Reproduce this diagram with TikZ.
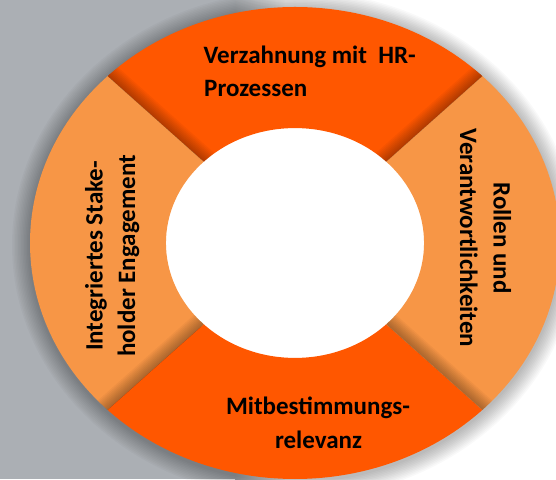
\documentclass[tikz,border=0pt]{standalone}
\usepackage{fontspec}
\setmainfont{Carlito}
\definecolor{darkor}{HTML}{FF5700}
\definecolor{lightor}{HTML}{F79646}
\definecolor{bggray}{HTML}{ABAFB4}
\newcommand{\segpath}[2]{(#1:1) arc[start angle=#1,end angle=#2,radius=1] -- (#2:0.487) arc[start angle=#2,end angle=#1,radius=0.487] -- cycle}
\begin{document}
\begin{tikzpicture}[x=1pt,y=1pt,
  lbl/.style={font=\bfseries\fontsize{25}{34}\selectfont, text=black, inner sep=0pt, anchor=base},
  edgeshade/.style={black, opacity=0.035}]
\useasboundingbox (0,0) rectangle (556,479);
\fill[white] (0,0) rectangle (556,479);
\fill[bggray] (0,0) rectangle (235,479);
\shade[left color=bggray, right color=white] (235,0) rectangle (285,479);
% soft shadow of the ring
\foreach \i in {1,...,12}
  \fill[black,opacity=0.025] (295,234) ellipse ({265+1.5*\i} and {236+1.5*\i});
\begin{scope}[shift={(295,236)}, xscale=265, yscale=236]
  \fill[white] (0,0) circle[radius=0.5];
  \fill[darkor] \segpath{45}{135};
  \fill[lightor] \segpath{135}{225};
  \fill[darkor] \segpath{225}{315};
  \fill[lightor] \segpath{-45}{45};
  % shading along the dividers
  \begin{scope}
    \clip \segpath{45}{135};
    \foreach \w in {3,6,...,27} {
      \draw[edgeshade, line width=\w pt] (135:0.4) -- (135:1.1);
      \draw[edgeshade, line width=\w pt] (45:0.4) -- (45:1.1);
    }
  \end{scope}
  \begin{scope}
    \clip \segpath{135}{225};
    \foreach \w in {3,6,...,27}
      \draw[edgeshade, line width=\w pt] (225:0.4) -- (225:1.1);
  \end{scope}
  \begin{scope}
    \clip \segpath{-45}{45};
    \foreach \w in {3,6,...,27}
      \draw[edgeshade, line width=\w pt] (-45:0.4) -- (-45:1.1);
  \end{scope}
\end{scope}
% labels
\node[lbl, anchor=base west] (t1) at (203.5,415.7) {Verzahnung mit\ \ HR-};
\node[lbl, anchor=base west] (t2) at (204,382) {Prozessen};
\node[lbl, rotate=-90] (r1) at (493.5,241) {Rollen und};
\node[lbl, rotate=-90] (r2) at (460,241) {Verantwortlichkeiten};
\node[lbl, rotate=90] (l1) at (102.5,223) {Integriertes Stake-};
\node[lbl, rotate=90] (l2) at (135,223) {holder Engagement};
\node[lbl] (b1) at (318,65) {Mitbestimmungs-};
\node[lbl] (b2) at (318.5,31) {relevanz};
\end{tikzpicture}
\end{document}
